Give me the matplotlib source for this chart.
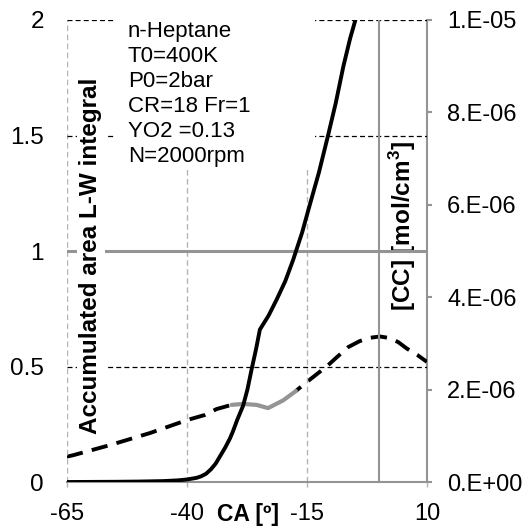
import numpy as np
import matplotlib
matplotlib.use('Agg')
import matplotlib.pyplot as plt
from matplotlib.patches import Rectangle
from matplotlib.transforms import blended_transform_factory

plt.rcParams['font.family'] = ['Liberation Sans', 'DejaVu Sans']

# Accumulated area of the L-W integral (left axis)
ca_area = [-65, -55, -50, -45, -42, -40, -38, -37, -36, -35, -34, -33, -32, -31,
           -30.4, -29.5, -28.3, -27.4, -26.5, -25.6, -24.8, -23, -21.3, -19.5,
           -17.9, -16, -14.4, -12.5, -10.6, -9, -7.4, -6, -4.9, -3.5]
area = [0, 0.001, 0.002, 0.004, 0.007, 0.011, 0.018, 0.025, 0.036, 0.055, 0.08,
        0.115, 0.15, 0.19, 0.22, 0.27, 0.33, 0.4, 0.49, 0.575, 0.66, 0.72, 0.79,
        0.87, 0.96, 1.08, 1.2, 1.34, 1.5, 1.64, 1.8, 1.92, 2.0, 2.12]

# [CC] concentration (right axis), dashed parts
ca_cc_a = [-65, -63.7, -56, -47.7, -40, -36.3, -33.8, -30.7]
cc_a = [0.55e-6, 0.58e-6, 0.80e-6, 1.06e-6, 1.34e-6, 1.45e-6, 1.58e-6, 1.67e-6]
ca_cc_b = [-17.3, -15.2, -13, -10.9, -9, -6.4, -4, -2, 0.2, 2, 4, 5.8, 8, 10]
cc_b = [1.97e-6, 2.15e-6, 2.33e-6, 2.50e-6, 2.68e-6, 2.92e-6, 3.05e-6, 3.12e-6,
        3.15e-6, 3.12e-6, 3.03e-6, 2.89e-6, 2.75e-6, 2.60e-6]
# [CC] gray part
ca_cc_g = [-30.7, -28.3, -25.5, -23.1, -19.9, -17.3]
cc_g = [1.67e-6, 1.69e-6, 1.67e-6, 1.60e-6, 1.77e-6, 1.97e-6]

x_ticks = [-65, -40, -15, 10]
y_ticks = [0, 0.5, 1, 1.5, 2]
y_tick_labels = ['0', '0.5', '1', '1.5', '2']
cc_ticks = [0, 2e-6, 4e-6, 6e-6, 8e-6, 1e-5]
cc_tick_labels = ['0.E+00', '2.E-06', '4.E-06', '6.E-06', '8.E-06', '1.E-05']

info = "n-Heptane\nT0=400K\nP0=2bar\nCR=18 Fr=1\nYO2 =0.13\nN=2000rpm"

fig = plt.figure(figsize=(5.31, 5.29), dpi=100)
ax = fig.add_axes([0.126, 0.0888, 0.678, 0.8734])
ax2 = ax.twinx()

gray = '#949494'
light = '#b4b4b4'

ax.set_xlim(-65, 10)
ax.set_ylim(0, 2)
ax2.set_ylim(0, 1e-5)

# grid-like lines
for xv in x_ticks[:-1]:
    ax.axvline(xv, color=light, lw=1.0, ls=(0, (4, 2.5)), zorder=1)
for yv in [0.5, 1.5, 2]:
    ax.axhline(yv, color='black', lw=0.9, ls=(0, (4, 2.5)), zorder=1)
ax.axhline(1, color=gray, lw=2.2, zorder=1.5)
ax.axvline(0, color=gray, lw=1.5, zorder=1.5)

# white box behind the info text
ax.add_patch(Rectangle((-55, 1.354), 41.7, 0.7, fc='white', ec='none',
                       zorder=2, clip_on=False))
ax.text(-52.3, 1.995, info, fontsize=16, va='top', ha='left',
        linespacing=1.25, zorder=3)

ax.plot(ca_area, area, color='black', lw=2.8, zorder=5)
ax2.plot(ca_cc_a, cc_a, color='black', lw=2.8, ls=(0, (4.2, 2.4)), zorder=5)
ax2.plot(ca_cc_b, cc_b, color='black', lw=2.8, ls=(2.5, (4.2, 2.4)), zorder=5)
ax2.plot(ca_cc_g, cc_g, color=gray, lw=3.0, zorder=5, solid_capstyle='round')

# axis labels drawn inside the plot
ax.text(-60.0, 0.98, 'Accumulated area L-W integral', rotation=90,
        fontsize=17.5, fontweight='bold', ha='center', va='center', zorder=4,
        bbox=dict(fc='white', ec='none', pad=2))
ax2.text(4.9, 5.55e-6, '[CC] [mol/cm$^\\mathregular{3}$]', rotation=90,
         fontsize=17.5, fontweight='bold', ha='center', va='center', zorder=4,
         bbox=dict(fc='white', ec='none', pad=2))
trans = blended_transform_factory(ax.transData, ax.transAxes)
ax.text(-27.2, -0.045, 'CA [º]', transform=trans, fontsize=16.5,
        fontweight='bold', ha='center', va='top')

# ticks and spines
ax.set_xticks(x_ticks)
ax.set_xticklabels([str(v) for v in x_ticks])
ax.set_yticks(y_ticks)
ax.set_yticklabels(y_tick_labels)
ax2.set_yticks(cc_ticks)
ax2.set_yticklabels(cc_tick_labels)

ax.tick_params(axis='y', length=0, pad=16.5, labelsize=17.5)
ax.tick_params(axis='x', length=3.6, width=1, color=light, pad=11.5, labelsize=17)
ax2.tick_params(axis='y', length=3.6, width=1.5, color=gray, pad=11, labelsize=17)

for a in (ax, ax2):
    for s in ['top', 'left', 'right', 'bottom']:
        a.spines[s].set_visible(False)
ax2.spines['right'].set_visible(True)
ax2.spines['right'].set_color(gray)
ax2.spines['right'].set_linewidth(1.5)
ax.spines['bottom'].set_visible(True)
ax.spines['bottom'].set_color(gray)
ax.spines['bottom'].set_linewidth(1.5)

ax.set_zorder(ax2.get_zorder() + 1)
ax.patch.set_visible(False)

fig.savefig('out.png', dpi=100)
